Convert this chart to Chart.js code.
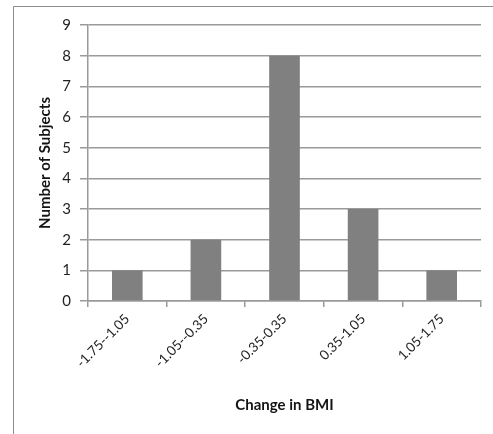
<!DOCTYPE html>
<html>
<head>
<meta charset="utf-8">
<style>
  html, body { margin: 0; padding: 0; background: #fff; }
  #wrap { position: relative; width: 493px; height: 434px; overflow: hidden; }
  canvas { display: block; }
</style>
<script src="https://cdn.jsdelivr.net/npm/chart.js@4"></script>
</head>
<body>
<div id="wrap"><canvas id="chart" width="493" height="434"></canvas></div>
<script>
// BMI change bins and how many subjects fall in each
const categories = ['-1.75--1.05', '-1.05--0.35', '-0.35-0.35', '0.35-1.05', '1.05-1.75'];
const subjects = [1, 2, 8, 3, 1];
const yTicks = [0, 1, 2, 3, 4, 5, 6, 7, 8, 9];

const FONT = 'Lato, "Open Sans", "DejaVu Sans", sans-serif';
const GRID = '#9a9a9a';

// Outer chart frame (left and top edges visible)
const framePlugin = {
  id: 'frame',
  beforeDraw(chart) {
    const ctx = chart.ctx;
    ctx.save();
    ctx.strokeStyle = '#8c8c8c';
    ctx.lineWidth = 1;
    ctx.beginPath();
    ctx.moveTo(13.5, chart.height);
    ctx.lineTo(13.5, 6.5);
    ctx.lineTo(chart.width, 6.5);
    ctx.stroke();
    ctx.restore();
  }
};

new Chart(document.getElementById('chart'), {
  type: 'bar',
  data: {
    labels: categories,
    datasets: [{
      data: subjects,
      backgroundColor: '#808080',
      borderWidth: 0,
      barPercentage: 0.39,
      categoryPercentage: 1.0
    }]
  },
  options: {
    responsive: false,
    animation: false,
    events: [],
    layout: { padding: { left: 14, right: 12, top: 25, bottom: 0 } },
    plugins: {
      legend: { display: false },
      tooltip: { enabled: false }
    },
    scales: {
      x: {
        offset: true,
        grid: {
          offset: true,
          drawOnChartArea: false,
          drawTicks: true,
          tickLength: 6,
          color: GRID,
          lineWidth: 1.5
        },
        border: { color: GRID, width: 1.5 },
        ticks: {
          minRotation: 45,
          maxRotation: 45,
          padding: 4,
          color: '#1f1f1f',
          font: { family: FONT, size: 13.5 }
        },
        title: {
          display: true,
          text: 'Change in BMI',
          color: '#141414',
          font: { family: FONT, size: 15, weight: 'bold' },
          padding: { top: 10, bottom: 20 }
        },
        afterFit(scale) { scale.height = 133; }
      },
      y: {
        min: 0,
        max: 9,
        afterBuildTicks(scale) { scale.ticks = yTicks.map(v => ({ value: v })); },
        grid: {
          color: GRID,
          lineWidth: 1.5,
          tickLength: 8
        },
        border: { color: GRID, width: 1.5 },
        ticks: {
          padding: 9,
          color: '#1f1f1f',
          font: { family: FONT, size: 15 }
        },
        title: {
          display: true,
          text: 'Number of Subjects',
          color: '#141414',
          font: { family: FONT, size: 15, weight: 'bold' },
          padding: { top: 22, bottom: 0 }
        },
        afterFit(scale) { scale.width = 74; }
      }
    }
  },
  plugins: [framePlugin]
});
</script>
</body>
</html>
